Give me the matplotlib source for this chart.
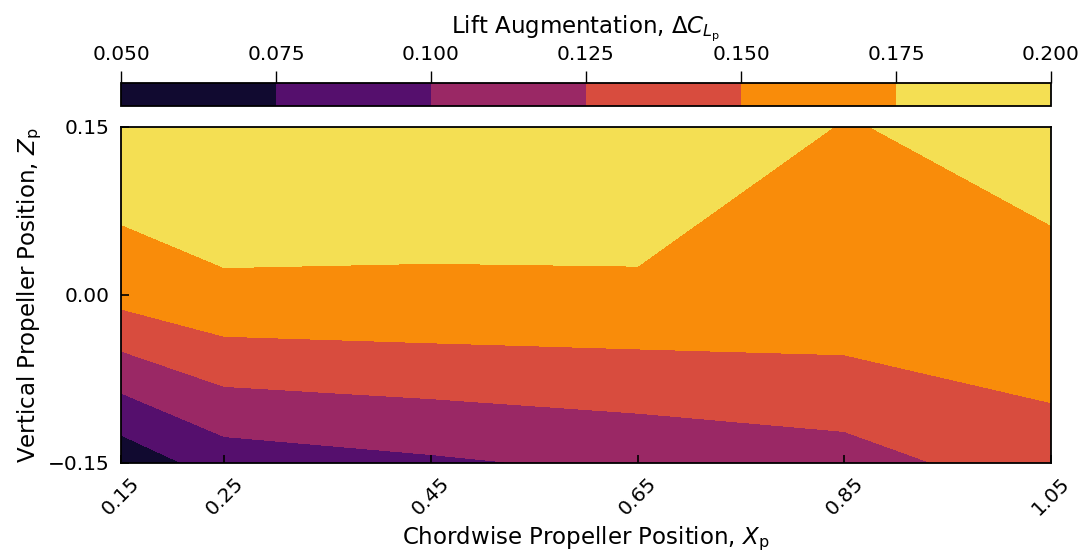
import numpy as np
import matplotlib
matplotlib.use("Agg")
import matplotlib.pyplot as plt

# Propeller position grid
x_pos = [0.15, 0.25, 0.45, 0.65, 0.85, 1.05]
z_pos = [-0.15, 0.0, 0.15]

# Lift augmentation, one row per vertical position
dcl_low = [0.0583, 0.0868, 0.0962, 0.1056, 0.1147, 0.1390]
dcl_mid = [0.1583, 0.1706, 0.1714, 0.1710, 0.1695, 0.1696]
dcl_high = [0.1980, 0.1976, 0.1905, 0.1943, 0.1739, 0.1826]

levels = [0.050, 0.075, 0.100, 0.125, 0.150, 0.175, 0.200]
x_ticks = [0.15, 0.25, 0.45, 0.65, 0.85, 1.05]
z_ticks = [-0.15, 0.0, 0.15]

plt.rcParams["font.family"] = ["DejaVu Sans"]
plt.rcParams["font.size"] = 14.5
plt.rcParams["mathtext.fontset"] = "dejavusans"

LABEL_SIZE = 16.5

W, H = 1085, 554
fig = plt.figure(figsize=(W / 100, H / 100), dpi=100)

ax = fig.add_axes([121 / W, (H - 463) / H, 930 / W, 336 / H])
cax = fig.add_axes([121 / W, (H - 106) / H, 930 / W, 23 / H])

X, Z = np.meshgrid(x_pos, z_pos)
C = np.array([dcl_low, dcl_mid, dcl_high])

cs = ax.contourf(X, Z, C, levels=levels, cmap="inferno")

ax.set_xlim(0.15, 1.05)
ax.set_ylim(-0.15, 0.15)
ax.set_xticks(x_ticks)
ax.set_xticklabels([f"{v:.2f}" for v in x_ticks], rotation=45)
ax.set_yticks(z_ticks)
ax.set_yticklabels([f"{v:.2f}".replace("-", "\u2212") for v in z_ticks])
ax.tick_params(direction="in", length=6, width=1.2)
ax.tick_params(axis="x", pad=8)
ax.tick_params(axis="y", pad=8)
for s in ax.spines.values():
    s.set_linewidth(1.3)
ax.set_xlabel(r"Chordwise Propeller Position, $X_\mathrm{p}$",
              fontsize=LABEL_SIZE, labelpad=4)
ax.set_ylabel(r"Vertical Propeller Position, $Z_\mathrm{p}$",
              fontsize=LABEL_SIZE, labelpad=3)

cb = fig.colorbar(cs, cax=cax, orientation="horizontal", ticks=levels)
cax.xaxis.set_ticks_position("top")
cax.xaxis.set_label_position("top")
cax.set_xticklabels([f"{v:.3f}" for v in levels])
cax.tick_params(direction="out", length=9, width=1.0, pad=5)
cb.outline.set_linewidth(1.3)
cb.set_label(r"Lift Augmentation, $\Delta C_{L_\mathrm{p}}$",
             fontsize=LABEL_SIZE, labelpad=8)

fig.savefig("out.png", dpi=100)
